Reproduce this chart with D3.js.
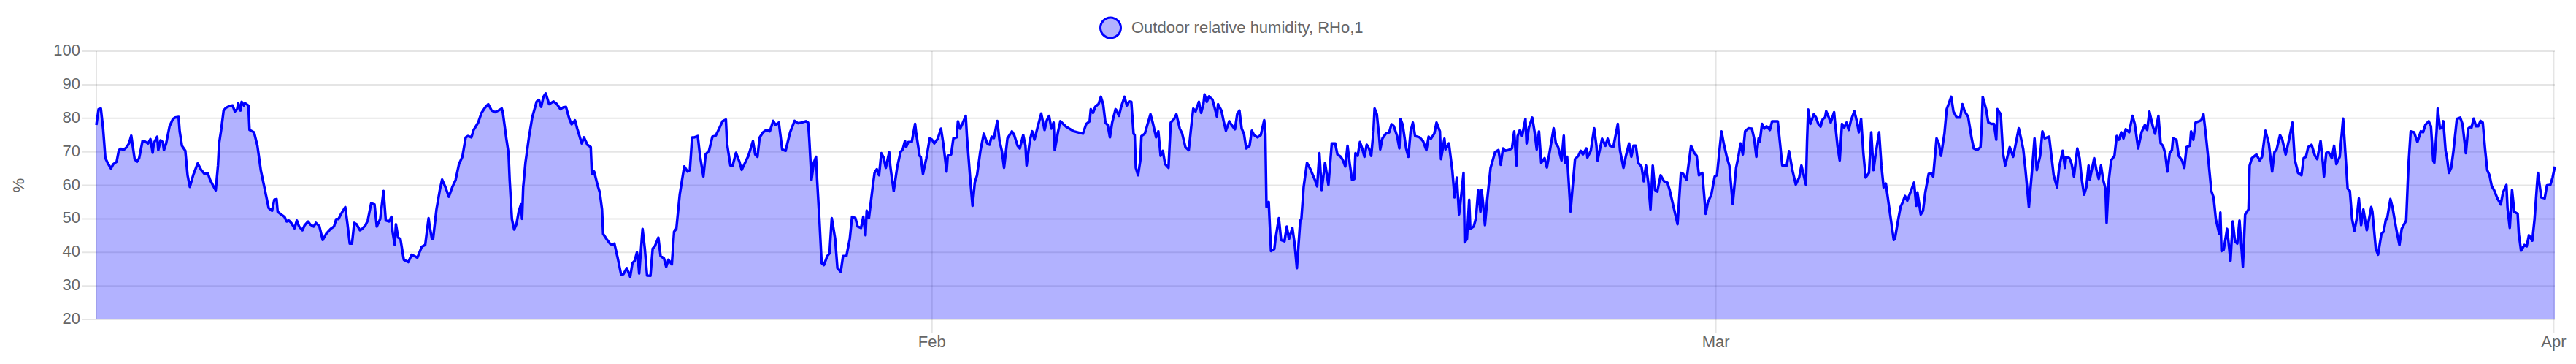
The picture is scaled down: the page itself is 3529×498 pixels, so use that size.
<!DOCTYPE html>
<html>
<head>
<meta charset="utf-8">
<script src="https://cdn.jsdelivr.net/npm/d3@7"></script>
<style>
  html, body { margin: 0; padding: 0; background: #fff; }
  svg { display: block; }
  text { font-family: "Liberation Sans", Arial, Helvetica, sans-serif; fill: #666; }
</style>
</head>
<body>
<svg id="chart" width="3529" height="498"></svg>
<script>
// Hours since 2024-01-01 00:00 UTC, relative humidity (%)
const seriesName = "Outdoor relative humidity, RHo,1";
const yAxisTitle = "%";
const yTicks = [20, 30, 40, 50, 60, 70, 80, 90, 100];
const yearStart = Date.UTC(2024, 0, 1);

const rhJanuary = [
[2,78.0],[4,82.7],[6,82.9],[8,76.9],[10,68.1],[12,66.7],[15,65.0],[17,66.3],[20,67.0],[22,70.5],[24,70.9],[26,70.5],[29,71.4],[31,72.5],[33,74.8],[34,72.5],[36,67.8],[38,67.0],[40,68.1],[43,73.2],[45,73.1],[48,72.5],[50,73.8],[52,69.7],[53,72.5],[56,74.5],[57,70.5],[59,73.4],[61,72.9],[62,70.5],[64,72.5],[67,77.6],[70,79.8],[72,80.2],[75,80.4],[76,76.1],[78,71.8],[81,70.3],[83,63.0],[85,59.5],[88,63.0],[92,66.5],[95,64.6],[98,63.4],[101,63.6],[103,61.6],[106,59.7],[108,58.5],[110,65.9],[111,72.5],[113,76.9],[115,82.3],[117,83.1],[120,83.6],[123,83.8],[125,82.0],[127,82.7],[128,84.5],[130,82.3],[131,84.9],[133,83.8],[134,84.5],[137,83.8],[138,76.5],[142,75.8],[145,71.8],[148,64.5],[151,59.7],[155,53.2],[158,52.4],[160,55.7],[162,55.9],[163,52.1],[166,51.3],[169,50.6],[171,49.2],[173,49.5],[175,48.8],[178,47.2],[180,49.5],[182,47.7],[185,46.6],[187,48.1],[190,49.2],[192,48.3],[195,47.7],[197,48.8],[200,47.8],[203,43.7],[206,45.5],[210,47.0],[213,47.7],[215,49.9],[217,49.9],[219,51.3],[223,53.5],[225,48.4],[227,42.6],[229,42.6],[231,48.8],[233,48.4],[236,46.6],[238,47.0],[241,48.1],[243,49.5],[246,54.6],[249,54.3],[251,47.7],[254,49.9],[257,58.3],[259,49.5],[262,49.2],[264,50.6],[265,46.2],[267,42.2],[268,48.4],[270,44.4],[272,44.0],
[275,37.8],[279,37.1],[282,39.3],[285,38.8],[287,38.4],[291,41.7],[294,42.2],[297,50.2],[298,47.7],[300,44.0],[301,44.0],[304,52.8],[307,58.6],[309,61.7],[312,59.4],[315,56.6],[318,59.4],[321,61.6],[324,66.3],[327,68.5],[330,74.3],[332,74.7],[335,74.3],[337,76.5],[341,78.7],[344,81.6],[347,83.1],[350,84.2],[353,82.3],[356,81.8],[359,82.3],[362,82.9],[363,81.6],[366,74.0],[368,69.6],[369,61.6],[371,49.9],[373,46.8],[375,48.4],[377,52.1],[379,54.3],[380,50.0],[381,59.4],[383,66.7],[386,74.0],[389,80.2],[393,85.0],[395,85.5],[397,83.4],[399,86.4],[401,87.4],[402,86.4],[404,84.2],[408,85.0],[411,84.2],[414,82.7],[417,83.3],[419,83.4],[422,79.8],[424,78.2],[427,79.4],[429,76.9],[433,72.5],[435,74.3],[438,72.1],[441,71.4],[442,63.4],[444,64.1],[447,60.1],[449,57.9],[451,52.8],[452,45.5],[455,44.0],[458,42.6],[460,42.2],[462,42.6],[465,38.2],[468,33.3],[470,33.5],[473,35.3],[476,32.7],[478,36.8],[480,37.5],[482,40.0],[483,37.8],[484,33.7],[487,47.0],[489,41.1],[491,33.1],[494,33.0],[496,41.1],[498,41.9],[501,44.4],[503,38.9],[506,38.2],[508,35.7],[510,37.8],[513,36.4],[515,46.2],[517,47.0],[520,57.2],[524,65.6],[527,64.1],[529,64.5],[531,74.3],[533,74.3],[536,74.7],[538,68.8],[541,62.6],[543,69.2],[546,70.3],
[549,74.5],[552,74.8],[555,76.9],[558,79.1],[561,79.6],[562,72.5],[565,65.9],[567,65.9],[570,69.7],[573,67.0],[575,64.6],[578,66.7],[581,68.8],[585,73.2],[587,69.2],[589,68.5],[591,74.3],[594,75.8],[597,76.5],[600,76.1],[603,79.2],[605,78.0],[608,78.7],[611,70.7],[614,70.3],[618,75.8],[622,79.2],[625,78.5],[628,78.7],[632,79.1],[634,78.7],[635,74.0],[637,61.6],[639,66.7],[641,68.5],[642,61.6],[644,49.9],[646,36.8],[648,36.2],[651,38.9],[653,39.7],[655,50.2],[658,44.0],[660,35.3],[663,34.2],[665,38.9],[668,38.9],[671,44.0],[673,50.6],[676,50.2],[678,47.7],[681,47.3],[683,50.6],[685,45.1],[686,52.4],[688,50.2],[691,58.6],[693,63.7],[695,64.8],[697,63.0],[699,69.6],[701,68.3],[703,65.2],[706,69.9],[707,65.6],[710,58.3],[713,65.2],[716,69.9],[718,70.7],[720,73.2],[721,71.4],[723,72.9],[726,72.9],[729,78.3],[730,75.4],[733,68.8],[734,68.5],[736,63.4],[739,68.1],[742,74.0]
];

const rhFebruary = [
[744,73.6],[746,72.5],[749,73.8],[752,76.9],[754,72.5],[757,64.1],[758,68.8],[761,69.2],[763,74.0],[766,74.3],[767,79.1],[769,76.9],[771,78.3],[774,80.7],[775,74.7],[778,61.6],[780,53.9],[782,60.8],[784,63.0],[787,70.3],[790,75.4],[793,72.5],[795,72.1],[797,74.5],[799,74.1],[802,79.2],[804,73.2],[806,70.3],[808,65.2],[811,74.0],[815,76.1],[817,75.0],[820,71.8],
[822,71.0],[825,75.0],[827,71.8],[828,65.9],[831,73.6],[833,76.1],[835,73.6],[838,77.6],[841,81.4],[844,76.5],[846,79.4],[848,80.7],[850,76.9],[852,78.7],[853,70.5],[856,76.1],[858,79.1],[863,77.5],[870,76.1],[878,75.4],[881,78.3],[884,79.1],[885,82.7],[887,81.6],[889,83.4],[892,84.3],[894,86.4],[896,84.2],[898,78.7],[900,78.0],[902,74.3],[904,78.7],[907,82.7],[908,82.3],[910,80.7],[912,83.4],[915,86.4],[917,83.8],[919,85.0],[921,84.9],[923,75.4],[924,75.0],[925,65.2],[927,63.0],[929,67.4],[930,74.7],[933,75.4],[938,81.2],[940,78.7],[942,75.8],[943,74.3],[945,76.1],[947,68.8],[949,70.3],[951,66.3],[954,65.2],[956,78.7],[959,79.8],[961,81.2],[964,76.9],[966,75.6],[969,71.4],[972,70.5],[974,76.9],[976,82.9],[978,82.0],[981,84.9],[983,81.6],[985,84.2],[986,87.1],[988,84.9],[990,86.5],[993,85.6],[995,83.1],[997,80.5],[998,84.2],[1001,82.3],[1003,79.1],[1005,76.3],[1008,79.1],[1010,78.0],[1013,76.7],[1015,81.2],[1017,82.3],[1019,76.9],[1021,75.4],[1023,71.0],[1026,71.8],[1028,76.3],[1030,75.0],[1033,74.3],[1036,75.0],[1039,79.4],[1040,75.4],[1041,53.5],[1043,55.0],[1045,40.4],[1048,41.0],[1049,44.0],[1052,50.2],[1054,43.7],[1057,43.3],[1059,47.7],[1061,44.0],[1064,47.3],[1066,42.6],[1068,35.3],[1071,49.5],[1072,49.9],[1074,59.4],[1075,61.9],[1077,66.7],[1080,64.8],[1084,61.6],[1086,59.7],[1088,69.6],[1090,58.6],[1093,66.7],
[1096,60.1],[1099,72.5],[1102,72.5],[1104,69.2],[1107,68.5],[1109,67.4],[1111,65.6],[1113,71.8],[1115,66.3],[1117,61.6],[1119,61.9],[1120,69.6],[1122,68.8],[1124,72.9],[1126,71.0],[1128,68.5],[1130,72.1],[1132,71.0],[1134,68.8],[1136,76.1],[1137,82.9],[1139,81.2],[1141,74.7],[1142,70.7],[1144,74.0],[1147,75.4],[1150,75.8],[1152,78.2],[1154,77.7],[1157,74.7],[1159,71.0],[1160,79.8],[1162,78.0],[1165,71.0],[1167,68.5],[1169,76.1],[1171,78.7],[1173,74.7],[1177,74.3],[1180,73.2],[1183,70.5],[1185,74.5],[1187,73.9],[1190,75.4],[1192,78.7],[1195,76.1],[1196,67.8],[1199,73.9],[1200,70.7],[1203,72.5],[1206,64.5],[1208,56.4],[1210,62.3],[1212,51.3],[1214,57.2],[1216,63.7],[1217,43.0],[1219,44.0],[1221,55.7],[1222,47.0],[1225,47.7],[1227,50.2],[1229,58.6],[1231,52.1],[1232,58.6],[1233,55.7],[1235,48.1],[1237,55.7],[1240,65.2],[1244,69.9],[1247,70.5],[1249,66.1],[1251,71.0],[1253,70.3],[1256,70.5],[1259,71.0],[1261,76.1],[1263,65.9],[1264,74.7],[1266,76.5],[1268,74.7],[1271,79.8],[1272,72.5],[1274,77.2],[1277,80.2],[1279,76.1],[1281,70.7],[1283,76.1],[1285,66.7],[1288,68.1],[1290,65.3],[1293,71.0],[1296,77.0],[1298,72.5],[1300,71.4],[1303,67.4],[1305,74.8],[1306,66.7],[1308,68.5],[1311,52.2],[1313,60.1],[1315,67.8],[1318,68.8],[1320,70.3],[1322,69.2],[1325,71.0],[1326,68.3],[1329,70.3],[1332,77.0],[1334,71.8],[1335,67.4],[1339,73.9],[1342,71.8],[1344,73.9],[1346,71.8],[1349,71.4],[1353,78.3],[1355,70.3],[1358,65.2],[1360,68.5],[1363,72.5],[1365,68.5],[1367,71.8],
[1369,71.8],[1371,66.7],[1374,65.6],[1376,61.2],[1378,65.9],[1380,60.8],[1382,52.8],[1384,65.9],[1386,58.6],[1388,58.1],[1391,63.0],[1394,61.2],[1397,60.8],[1399,58.6],[1403,52.8],[1406,48.4],[1409,63.7],[1411,63.4],[1414,61.6],[1418,71.8],[1421,69.6],[1423,68.8],[1425,63.0],[1428,63.7],[1431,51.5],[1433,55.0],[1436,57.2],[1439,62.6]
];

const rhMarch = [
[1441,63.0],[1443,69.6],[1445,76.1],[1447,72.5],[1450,68.1],[1452,65.9],[1455,54.4],[1458,65.2],[1460,68.5],[1462,72.5],[1464,69.2],[1466,76.1],[1469,77.0],[1472,76.9],[1474,74.0],[1476,68.5],[1478,74.0],[1479,72.9],[1481,78.3],[1483,76.9],[1485,77.6],[1488,76.5],[1490,79.1],[1495,79.1],[1497,72.5],[1499,65.9],[1503,65.9],[1505,70.2],[1508,64.5],[1511,60.2],[1514,62.3],[1516,65.9],[1518,63.0],[1520,60.2],[1521,73.2],[1522,82.6],[1524,78.3],[1527,81.2],[1529,80.2],[1531,78.3],[1533,77.5],[1535,79.8],[1537,80.2],[1538,82.1],[1540,80.5],[1542,78.7],[1545,81.8],[1546,78.3],[1548,71.8],[1550,67.4],[1552,78.3],[1554,77.2],[1556,78.7],[1558,76.5],[1560,79.4],[1563,82.1],[1565,79.4],[1567,75.8],[1569,79.8],[1571,69.6],[1573,62.3],[1576,63.7],[1578,75.8],[1580,64.5],[1582,69.6],[1585,75.8],[1587,65.9],[1589,59.4],[1591,60.5],[1594,53.2],[1596,48.4],[1598,43.7],[1599,44.0],[1602,49.9],[1604,53.5],[1606,55.0],[1608,56.8],[1610,55.4],[1612,57.2],[1616,60.8],[1618,53.9],[1619,57.9],[1622,51.3],[1624,52.4],[1626,57.9],[1629,63.4],[1631,63.7],[1633,62.6],[1636,74.0],[1638,72.5],[1640,68.8],
[1643,75.4],[1645,82.7],[1647,84.5],[1649,86.4],[1651,82.0],[1654,80.2],[1657,80.2],[1659,84.2],[1661,82.0],[1664,80.5],[1667,74.3],[1669,71.0],[1672,70.5],[1675,71.4],[1676,76.9],[1677,86.4],[1680,82.7],[1682,78.7],[1685,78.3],[1687,78.3],[1689,73.6],[1690,82.7],[1693,81.2],[1695,69.6],[1697,65.9],[1701,71.4],[1704,68.5],[1706,71.8],[1709,77.0],[1711,74.0],[1713,70.7],[1715,64.5],[1718,53.5],[1721,65.2],[1723,74.0],[1725,64.5],[1728,68.8],[1730,76.1],[1732,74.0],[1736,74.5],[1738,68.8],[1740,63.0],[1743,59.4],[1745,65.6],[1748,70.3],[1750,65.2],[1751,68.5],[1754,68.1],[1756,66.3],[1758,62.6],[1761,71.0],[1763,68.1],[1765,61.6],[1767,57.2],[1769,59.4],[1771,65.9],[1772,61.6],[1776,68.1],[1778,64.5],[1780,61.9],[1782,65.9],[1784,61.6],[1786,59.0],[1787,48.8],[1789,61.6],[1791,67.4],[1794,68.8],[1796,74.7],[1798,73.6],[1800,75.8],[1802,74.0],[1804,76.7],[1807,75.8],[1810,80.7],[1812,78.3],[1815,71.0],[1818,75.8],[1821,78.0],[1823,76.5],[1825,82.0],[1828,77.6],[1830,75.4],[1833,80.7],[1835,72.5],[1837,71.8],[1839,69.6],[1841,64.1],[1843,69.6],[1845,70.5],[1846,74.0],[1849,73.6],[1851,68.8],[1854,67.4],[1856,65.2],[1858,71.4],[1861,71.8],[1862,76.1],[1864,73.6],[1866,78.7],[1869,79.1],[1871,79.4],[1873,81.2],[1875,75.4],[1877,68.8],[1880,58.3],[1882,56.4],[1884,49.9],[1887,45.5],[1888,51.9],[1889,40.4],[1891,40.8],[1894,47.0],[1897,37.5],[1899,49.2],[1901,43.3],[1903,42.6],[1905,49.5],[1908,35.7],[1910,51.3],[1913,52.8],[1914,65.9],
[1916,68.1],[1920,69.2],[1923,67.4],[1925,68.5],[1928,76.3],[1931,72.5],[1934,64.1],[1936,69.9],[1938,70.7],[1941,75.0],[1943,73.6],[1946,69.2],[1949,73.6],[1952,78.7],[1954,67.8],[1957,63.7],[1960,63.0],[1962,68.1],[1964,68.5],[1966,71.4],[1969,72.1],[1972,68.8],[1974,67.8],[1977,73.2],[1979,66.7],[1980,62.6],[1982,69.6],[1984,69.9],[1987,68.1],[1989,71.8],[1991,66.3],[1994,68.5],[1997,79.9],[1999,69.6],[2001,59.0],[2003,58.3],[2005,49.9],[2007,46.4],[2009,49.9],[2011,56.1],[2013,48.1],[2015,52.8],[2018,46.6],[2020,49.9],[2022,53.5],[2023,52.1],[2026,41.1],[2028,39.3],[2031,45.5],[2033,46.2],[2035,49.9],[2036,49.9],[2039,55.9],[2041,53.2],[2043,49.2],[2045,45.5],[2047,42.2],[2049,47.0],[2053,49.5],[2055,65.9],[2057,76.1],[2060,75.8],[2063,72.9],[2066,76.1],[2068,75.8],[2070,78.0],[2073,79.1],[2075,77.6],[2077,67.4],[2078,66.7],[2080,76.1],[2081,82.9],[2083,76.9],[2085,77.2],[2086,79.1],[2088,70.3],[2089,68.8],[2091,63.7],[2093,65.2],[2095,70.3],[2098,79.8],[2101,80.2],[2103,78.3],[2106,69.6],[2108,76.9],[2110,77.5],[2111,77.2],[2113,79.9],[2115,77.6],[2117,77.6],[2119,79.2],[2121,78.7],[2123,71.0],[2125,64.5],[2127,63.0],[2129,59.7],[2131,58.6],[2134,56.1],[2137,54.3],[2139,57.9],[2142,60.1],[2143,53.2],[2145,47.3],[2147,58.6],[2149,52.1],[2152,51.5],[2153,45.5],[2155,40.5],[2158,42.2],[2160,41.8],[2162,45.1],[2165,43.5],[2167,49.9],[2169,59.4],[2170,63.7],[2173,56.4],[2176,56.1],[2178,60.0],[2181,60.1],[2183,62.3],[2185,65.6]
];

// ---- build ----
const data = [...rhJanuary, ...rhFebruary, ...rhMarch].map(([h, v]) => ({
  t: new Date(yearStart + h * 3600e3), v
}));

const W = 3529, H = 498;
const plot = { left: 132, right: 3500, top: 70, bottom: 437 };
const svg = d3.select("#chart");
const fontSize = 22;
const gridColor = "rgba(0,0,0,0.1)";

const x = d3.scaleUtc().domain(d3.extent(data, d => d.t)).range([plot.left, plot.right]);
const y = d3.scaleLinear().domain([20, 100]).range([plot.bottom, plot.top]);

// horizontal grid + y labels
const gy = svg.append("g");
gy.selectAll("line").data(yTicks).join("line")
  .attr("x1", plot.left - 19).attr("x2", plot.right)
  .attr("y1", d => y(d)).attr("y2", d => y(d))
  .attr("stroke", gridColor).attr("stroke-width", 2);
gy.selectAll("text").data(yTicks).join("text")
  .attr("x", plot.left - 22).attr("y", d => y(d) + 6)
  .attr("text-anchor", "end").attr("font-size", fontSize)
  .text(d => d);

// y axis line at left
svg.append("line")
  .attr("x1", plot.left).attr("x2", plot.left)
  .attr("y1", plot.top).attr("y2", plot.bottom)
  .attr("stroke", gridColor).attr("stroke-width", 2);

// vertical month grid + labels
const monthTicks = x.ticks(d3.utcMonth.every(1)).filter(d => +d > +x.domain()[0]);
const gx = svg.append("g");
gx.selectAll("line").data(monthTicks).join("line")
  .attr("x1", d => x(d)).attr("x2", d => x(d))
  .attr("y1", plot.top).attr("y2", plot.bottom + 18)
  .attr("stroke", gridColor).attr("stroke-width", 2);
gx.selectAll("text").data(monthTicks).join("text")
  .attr("x", d => x(d)).attr("y", plot.bottom + 38)
  .attr("text-anchor", "middle").attr("font-size", fontSize)
  .text(d3.utcFormat("%b"));

// y title
svg.append("text")
  .attr("transform", `translate(25, ${(plot.top + plot.bottom) / 2}) rotate(-90)`)
  .attr("text-anchor", "middle").attr("dy", "0.35em")
  .attr("font-size", fontSize)
  .text(yAxisTitle);

// area + line
const area = d3.area().x(d => x(d.t)).y0(y(20)).y1(d => y(d.v));
const line = d3.line().x(d => x(d.t)).y(d => y(d.v));
svg.append("path").datum(data).attr("d", area)
  .attr("fill", "rgba(0,0,255,0.3)");
svg.append("path").datum(data).attr("d", line)
  .attr("fill", "none").attr("stroke", "#0000ff")
  .attr("stroke-width", 3.5).attr("stroke-linejoin", "round");

// legend
const lg = svg.append("g");
lg.append("circle").attr("cx", 1521.5).attr("cy", 38).attr("r", 14)
  .attr("fill", "rgba(0,0,255,0.3)").attr("stroke", "#0000ff").attr("stroke-width", 3);
lg.append("text").attr("x", 1550).attr("y", 45).attr("font-size", fontSize)
  .text(seriesName);
</script>
</body>
</html>
